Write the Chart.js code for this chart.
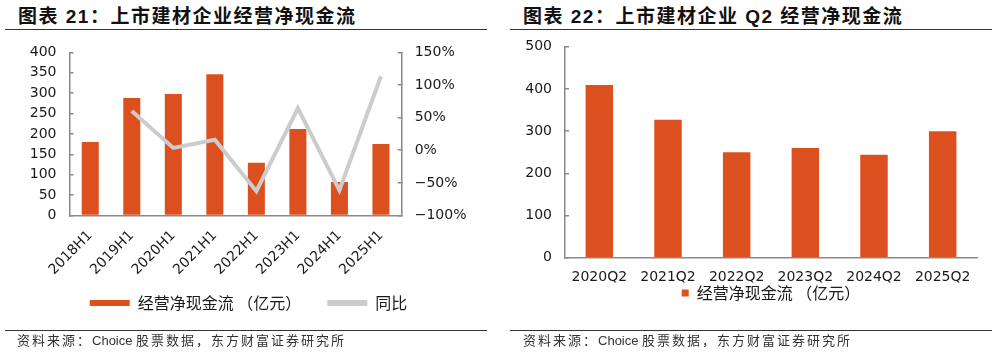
<!DOCTYPE html>
<html>
<head>
<meta charset="utf-8">
<script src="https://cdn.jsdelivr.net/npm/chart.js@4.4.1/dist/chart.umd.min.js"></script>
<style>
html, body { margin: 0; padding: 0; background: #fff; }
body { width: 997px; height: 354px; position: relative; overflow: hidden;
       font-family: "Liberation Sans", "Noto Sans CJK SC", sans-serif; }
.title { position: absolute; top: 7px; line-height: 20px; font-size: 19px; font-weight: bold;
         letter-spacing: 1.5px; color: #111; white-space: nowrap; }
.rule { position: absolute; height: 0; border-top: 1.5px solid #333; }
.src { position: absolute; top: 333px; line-height: 16px; font-size: 13px; letter-spacing: 2px;
       color: #333; white-space: nowrap; }
.src span { letter-spacing: 0; }
.box { position: absolute; }
</style>
</head>
<body>
<div class="title" style="left:18px">图表 21：上市建材企业经营净现金流</div>
<div class="rule" style="left:5px; width:482px; top:29px"></div>
<div class="box" style="left:0; top:40px; width:497px; height:293px"><canvas id="h1Chart"></canvas></div>
<div class="rule" style="left:5px; width:482px; top:330px"></div>
<div class="src" style="left:17px">资料来源：<span>Choice </span>股票数据，东方财富证券研究所</div>

<div class="title" style="left:523px">图表 22：上市建材企业 Q2 经营净现金流</div>
<div class="rule" style="left:510px; width:482px; top:29px"></div>
<div class="box" style="left:500px; top:35px; width:497px; height:288px"><canvas id="q2Chart"></canvas></div>
<div class="rule" style="left:510px; width:482px; top:330px"></div>
<div class="src" style="left:523px">资料来源：<span>Choice </span>股票数据，东方财富证券研究所</div>

<script>
// 图表 21 数据（亿元 / 同比 %）
const h1Labels = ['2018H1', '2019H1', '2020H1', '2021H1', '2022H1', '2023H1', '2024H1', '2025H1'];
const h1Cash = [180, 288, 298, 346, 129, 212, 82, 175];
const h1Yoy = [null, 60, 3.5, 16.1, -62.7, 64.3, -61.3, 113.4];
const h1CashAxis = [0, 400, 50];     // min, max, step
const h1YoyAxis = [-100, 150, 50];

// 图表 22 数据（亿元）
const q2Labels = ['2020Q2', '2021Q2', '2022Q2', '2023Q2', '2024Q2', '2025Q2'];
const q2Cash = [409, 327, 250, 260, 244, 300];
const q2CashAxis = [0, 500, 100];

const barColor = '#DC5020';
const lineColor = '#CCCCCC';
const axisColor = '#8a8a8a';
const textColor = '#1a1a1a';
const tickFont = { family: 'DejaVu Sans', size: 14 };
const legendFont = { family: 'Noto Sans CJK SC', size: 16 };

function pctLabel(v) {
    return (v < 0 ? '\u2212' + (-v) : v) + '%';
}

// 刻度朝内
const innerGrid = { drawOnChartArea: false, tickLength: -4, color: axisColor, lineWidth: 1.5 };
const axisBorder = { color: axisColor, width: 1.5 };

// 固定纵轴宽度，并且不让标签间距把绘图区往下推
function fixY(width) {
    return s => {
        s.width = width;
        s.paddingTop = 8;
        s.paddingBottom = 8;
    };
}

// 左图：柱 + 同比折线
new Chart(document.getElementById('h1Chart'), {
    type: 'bar',
    data: {
        labels: h1Labels,
        datasets: [
            {
                // 末尾空白用于拉开两个图例的间距
                label: '经营净现金流 （亿元）\u2003',
                data: h1Cash,
                backgroundColor: barColor,
                yAxisID: 'y',
                order: 2,
                categoryPercentage: 1,
                barPercentage: 0.41
            },
            {
                type: 'line',
                label: '同比',
                data: h1Yoy,
                borderColor: lineColor,
                backgroundColor: lineColor,
                borderWidth: 4,
                pointRadius: 0,
                tension: 0,
                yAxisID: 'y1',
                order: 1
            }
        ]
    },
    options: {
        responsive: true,
        maintainAspectRatio: false,
        animation: false,
        layout: { padding: { top: 12.3, bottom: 12, left: 0, right: 0 } },
        plugins: {
            tooltip: { enabled: false },
            legend: {
                position: 'bottom',
                labels: {
                    boxWidth: 40,
                    boxHeight: 6,
                    padding: 10,
                    font: legendFont,
                    color: textColor,
                    sort: (a, b) => a.datasetIndex - b.datasetIndex,
                    generateLabels: chart => Chart.defaults.plugins.legend.labels.generateLabels(chart)
                        .map(it => Object.assign(it, { lineWidth: 0 }))
                }
            }
        },
        scales: {
            x: {
                grid: { display: false },
                border: axisBorder,
                ticks: { font: tickFont, color: textColor, maxRotation: 45, minRotation: 45, padding: 4 },
                afterFit: s => { s.height = 69.5; }
            },
            y: {
                position: 'left',
                min: h1CashAxis[0], max: h1CashAxis[1],
                ticks: { stepSize: h1CashAxis[2], autoSkip: false, font: tickFont, color: textColor, padding: 17 },
                grid: innerGrid,
                border: axisBorder,
                afterFit: fixY(69.5)
            },
            y1: {
                position: 'right',
                min: h1YoyAxis[0], max: h1YoyAxis[1],
                ticks: { stepSize: h1YoyAxis[2], autoSkip: false, font: tickFont, color: textColor, padding: 17, callback: pctLabel },
                grid: innerGrid,
                border: axisBorder,
                afterFit: fixY(95.3)
            }
        }
    }
});

// 右图：Q2 柱状
new Chart(document.getElementById('q2Chart'), {
    type: 'bar',
    data: {
        labels: q2Labels,
        datasets: [{
            label: '经营净现金流 （亿元）',
            data: q2Cash,
            backgroundColor: barColor,
            categoryPercentage: 1,
            barPercentage: 0.40
        }]
    },
    options: {
        responsive: true,
        maintainAspectRatio: false,
        animation: false,
        layout: { padding: { top: 11.7, bottom: 12, left: 0, right: 20 } },
        plugins: {
            tooltip: { enabled: false },
            legend: {
                position: 'bottom',
                fullSize: false,
                labels: { boxWidth: 7, boxHeight: 7, padding: 2, font: legendFont, color: textColor }
            }
        },
        scales: {
            x: {
                grid: { display: false, drawTicks: false },
                border: axisBorder,
                ticks: { font: tickFont, color: textColor, maxRotation: 0, padding: 10.7 },
                afterFit: s => { s.height = 25.2; }
            },
            y: {
                min: q2CashAxis[0], max: q2CashAxis[1],
                ticks: { stepSize: q2CashAxis[2], autoSkip: false, font: tickFont, color: textColor, padding: 17 },
                grid: innerGrid,
                border: axisBorder,
                afterFit: fixY(65)
            }
        }
    }
});
</script>
</body>
</html>
